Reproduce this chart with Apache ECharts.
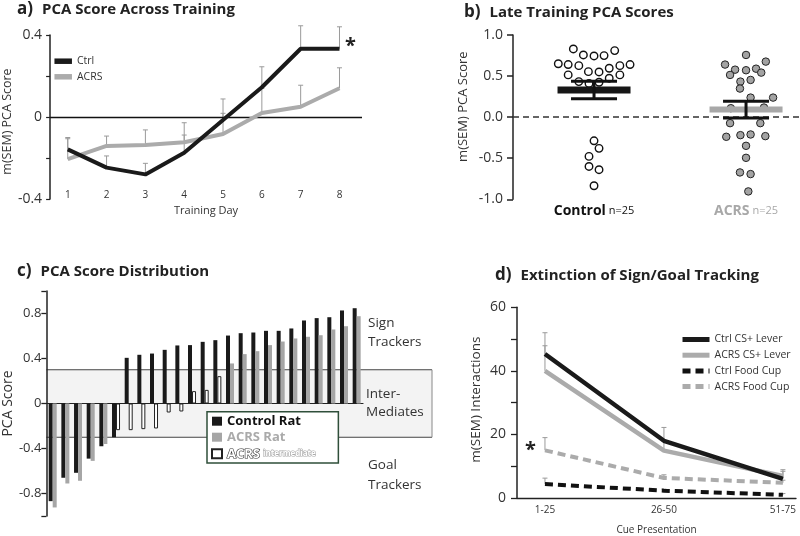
<!DOCTYPE html>
<html><head><meta charset="utf-8">
<script src="https://cdn.jsdelivr.net/npm/echarts@6/dist/echarts.min.js"></script>
<style>html,body{margin:0;padding:0;background:#fff}#c{width:800px;height:536px}</style>
</head><body><div id="c"></div>
<script>
// ---------- a) PCA score across training ----------
const days = [1, 2, 3, 4, 5, 6, 7, 8];
const ctrlTraining = [-0.158, -0.247, -0.28, -0.174, -0.015, 0.145, 0.333, 0.333];
const ctrlTrainingSem = [0.058, 0.057, 0.054, 0.086, 0.103, 0.10, 0.112, 0.107];
const acrsTraining = [-0.206, -0.141, -0.137, -0.123, -0.083, 0.02, 0.05, 0.14];
const acrsTrainingSem = [0.10, 0.048, 0.074, 0.095, 0.101, 0.12, 0.105, 0.10];

// ---------- b) Late training PCA scores ----------
const lateGroups = ['Control', 'ACRS'];
const lateN = [25, 25];
const controlLate = [0.83, 0.757, 0.745, 0.749, 0.81, 0.65, 0.64, 0.627, 0.554, 0.55, 0.595, 0.627, 0.64, 0.514, 0.433, 0.41, 0.425, 0.474, 0.514, -0.288, -0.38, -0.478, -0.6, -0.64, -0.835];
const controlJitter = [-0.136, -0.07, 0, 0.066, 0.136, -0.235, -0.17, -0.1, -0.037, 0.033, 0.1, 0.17, 0.237, -0.17, -0.1, -0.033, 0.033, 0.1, 0.17, 0, 0.033, -0.033, -0.033, 0.033, 0];
const acrsLate = [0.757, 0.64, 0.676, 0.578, 0.514, 0.571, 0.59, 0.542, 0.433, 0.453, 0.348, 0.238, 0.238, 0.109, 0.117, -0.073, -0.073, -0.239, -0.219, -0.211, -0.231, -0.349, -0.495, -0.673, -0.693, -0.904];
const acrsJitter = [0, -0.138, 0.13, -0.072, -0.105, 0, 0.066, 0.1, -0.037, 0.03, -0.04, 0.03, 0.178, -0.1, 0.118, -0.105, 0.094, -0.13, -0.037, 0.03, 0.127, 0, 0, -0.04, 0.03, 0.015];
const lateMean = [0.33, 0.092];
const lateSem = [0.107, 0.101];

// ---------- c) PCA score distribution ----------
const ratRank = Array.from({length: 25}, (_, i) => String(i + 1));
const controlRat = [-0.868, -0.66, -0.616, -0.49, -0.38, -0.30, 0.406, 0.433, 0.444, 0.477, 0.516, 0.519, 0.548, 0.563, 0.604, 0.625, 0.631, 0.646, 0.646, 0.667, 0.738, 0.759, 0.767, 0.827, 0.847];
const acrsRat = [-0.924, -0.711, -0.687, -0.51, -0.36, -0.237, -0.237, -0.228, -0.222, -0.08, -0.071, 0.11, 0.121, 0.243, 0.356, 0.439, 0.465, 0.519, 0.551, 0.578, 0.593, 0.607, 0.658, 0.687, 0.776];
const intermediateRange = [-0.3, 0.3];

// ---------- d) Extinction ----------
const cueBlocks = ['1-25', '26-50', '51-75'];
const ctrlLever = [45.3, 18.0, 6.0];
const ctrlLeverSem = [6.7, 4.2, 2.9];
const acrsLever = [40.0, 14.9, 6.9];
const acrsLeverSem = [7.9, 3.0, 1.5];
const ctrlCup = [4.4, 2.3, 1.0];
const ctrlCupSem = [1.85, 0.5, 0.4];
const acrsCup = [15.0, 6.3, 4.8];
const acrsCupSem = [4.0, 1.0, 0.8];

const F = 'Open Sans';
const chart = echarts.init(document.getElementById('c'));

function errUp(params, api) {
  const x = api.value(0), y = api.value(1), e = api.value(2);
  const p0 = api.coord([x, y]), p1 = api.coord([x, y + e]);
  const st = {stroke: '#9a9a9a', lineWidth: 1};
  return {type: 'group', children: [
    {type: 'line', shape: {x1: p0[0], y1: p0[1], x2: p1[0], y2: p1[1]}, style: st},
    {type: 'line', shape: {x1: p1[0] - 2.5, y1: p1[1], x2: p1[0] + 2.5, y2: p1[1]}, style: st}
  ]};
}
function errSeries(xi, yi, xs, ys, es) {
  return {type: 'custom', xAxisIndex: xi, yAxisIndex: yi, z: 1, silent: true,
    encode: {x: 0, y: 1}, renderItem: errUp,
    data: ys.map((v, i) => [xs[i], v, es[i]])};
}
const inter = v => v > intermediateRange[0] && v < intermediateRange[1];
const cueX = cueBlocks.map((_, i) => i + 1);

const titleRich = {
  n: {fontSize: 17, fontFamily: F, color: '#222', padding: [0, 9, 0, 0]},
  b: {fontSize: 15, fontFamily: F, fontWeight: 'bold', color: '#222'}
};
function mkTitle(letter, txt, left, top) {
  return {text: '{n|' + letter + ')}{b|' + txt + '}', left: left, top: top, padding: 0,
    textStyle: {rich: titleRich}};
}
const axisLineSt = {show: true, lineStyle: {color: '#222', width: 1.5}};
const hiddenSymbol = {color: 'rgba(0,0,0,0)', borderWidth: 0, opacity: 0};

const option = {
  animation: false,
  textStyle: {fontFamily: F},
  title: [
    mkTitle('a', 'PCA Score Across Training', 17, 1),
    mkTitle('b', 'Late Training PCA Scores', 464, 4),
    mkTitle('c', 'PCA Score Distribution', 17, 263),
    mkTitle('d', 'Extinction of Sign/Goal Tracking', 495, 267)
  ],
  grid: [
    {left: 44, top: 35, width: 318, height: 164},
    {left: 513, top: 35, width: 287, height: 164.3},
    {left: 40, top: 291, width: 323, height: 225},
    {left: 517, top: 307.3, width: 279, height: 192}
  ],
  xAxis: [
    {gridIndex: 0, type: 'value', min: 0.545, max: 8.58, axisLine: {show: false}, axisTick: {show: false},
      splitLine: {show: false},
      axisLabel: {customValues: days, margin: -9, fontSize: 10, color: '#333'},
      name: 'Training Day', nameLocation: 'middle', nameGap: 6, nameTextStyle: {fontSize: 11, color: '#333'}},
    {gridIndex: 1, type: 'value', min: 0.467, max: 2.355, axisLine: {show: false}, axisTick: {show: false},
      splitLine: {show: false},
      axisLabel: {customValues: [1, 2], margin: 5,
        formatter: v => '{g' + (v - 1) + '|' + lateGroups[v - 1] + '}{n' + (v - 1) + '| n=' + lateN[v - 1] + '}',
        rich: {
          g0: {fontSize: 14, fontWeight: 'bold', color: '#111', fontFamily: F},
          n0: {fontSize: 11, color: '#111', fontFamily: F},
          g1: {fontSize: 14, fontWeight: 'bold', color: '#a8a8a8', fontFamily: F},
          n1: {fontSize: 11, color: '#a8a8a8', fontFamily: F}
        }}},
    {gridIndex: 2, type: 'category', data: ratRank,
      axisLine: {show: true, onZero: true, lineStyle: {color: '#222', width: 1.2}},
      axisTick: {show: false}, axisLabel: {show: false}},
    {gridIndex: 3, type: 'value', min: 0.765, max: 3.11, axisLine: {show: true, lineStyle: {color: '#222', width: 1.3}},
      axisTick: {show: false}, splitLine: {show: false},
      axisLabel: {customValues: cueX, formatter: v => cueBlocks[v - 1], fontSize: 10, color: '#333', margin: 7},
      name: 'Cue Presentation', nameLocation: 'middle', nameGap: 27, nameTextStyle: {fontSize: 10, color: '#333'}}
  ],
  yAxis: [
    {gridIndex: 0, type: 'value', min: -0.4, max: 0.4, interval: 0.2, axisLine: axisLineSt,
      axisTick: {show: true, length: 4, customValues: [-0.4, -0.2, 0, 0.2, 0.4], lineStyle: {color: '#222', width: 1.2}},
      axisLabel: {customValues: [-0.4, 0, 0.4], fontSize: 14, color: '#333', margin: 8},
      splitLine: {show: false},
      name: 'm(SEM) PCA Score', nameLocation: 'middle', nameGap: 28,
      nameTextStyle: {fontSize: 12.5, color: '#333', padding: [0, 9, 0, 0]}},
    {gridIndex: 1, type: 'value', min: -1, max: 1, interval: 0.5, axisLine: axisLineSt,
      axisTick: {show: true, length: 6, lineStyle: {color: '#222', width: 1.5}},
      axisLabel: {fontSize: 14, color: '#333', margin: 10, formatter: v => v.toFixed(1)},
      splitLine: {show: false},
      name: 'm(SEM) PCA Score', nameLocation: 'middle', nameGap: 43,
      nameTextStyle: {fontSize: 13, color: '#333', padding: [0, 0, 0, 21]}},
    {gridIndex: 2, type: 'value', min: -1, max: 1, axisLine: axisLineSt,
      axisTick: {show: true, length: 5, customValues: [-1, -0.8, -0.4, 0, 0.4, 0.8, 1], lineStyle: {color: '#222', width: 1.3}},
      axisLabel: {customValues: [-0.8, -0.4, 0, 0.4, 0.8], fontSize: 13, color: '#333', margin: 5},
      splitLine: {show: false},
      name: 'PCA Score', nameLocation: 'middle', nameGap: 24,
      nameTextStyle: {fontSize: 14, color: '#333'}},
    {gridIndex: 3, type: 'value', min: 0, max: 60, interval: 10, axisLine: axisLineSt,
      axisTick: {show: true, length: 6, lineStyle: {color: '#222', width: 1.3}},
      axisLabel: {customValues: [0, 20, 40, 60], fontSize: 14, color: '#333', margin: 11},
      splitLine: {show: false},
      name: 'm(SEM) Interactions', nameLocation: 'middle', nameGap: 34,
      nameTextStyle: {fontSize: 13.5, color: '#333', padding: [0, 0, 0, 6]}}
  ],
  legend: [
    {data: ['Ctrl', 'ACRS'], orient: 'vertical', left: 51.7, top: 55.7, padding: 0,
      itemWidth: 17.5, itemHeight: 12, itemGap: 4.6, selectedMode: false,
      itemStyle: hiddenSymbol,
      lineStyle: {width: 5.5}, textStyle: {fontSize: 10.5, color: '#333', fontFamily: F}},
    {data: ['Control Rat', 'ACRS Rat', 'ACRS Intermediate'], orient: 'vertical', left: 207, top: 411.7,
      padding: [3, 22, 2, 4], itemWidth: 10, itemHeight: 9, itemGap: 3, icon: 'rect', selectedMode: false,
      borderColor: '#2f4f3a', borderWidth: 1.5, backgroundColor: '#fff', borderRadius: 0,
      formatter: name => name === 'Control Rat' ? '{k|Control Rat}' :
        name === 'ACRS Rat' ? '{g|ACRS Rat}' : '{o|ACRS} {s|intermediate}',
      textStyle: {fontFamily: F, rich: {
        k: {fontSize: 13, fontWeight: 'bold', color: '#111', fontFamily: F},
        g: {fontSize: 13, fontWeight: 'bold', color: '#aaa', fontFamily: F},
        o: {fontSize: 13, fontWeight: 'bold', color: '#fff', textBorderColor: '#333', textBorderWidth: 1.2, fontFamily: F},
        s: {fontSize: 8, fontWeight: 'bold', color: '#fff', textBorderColor: '#aaa', textBorderWidth: 1.2, fontFamily: F}
      }}},
    {data: ['Ctrl CS+ Lever', 'ACRS CS+ Lever', 'Ctrl Food Cup', 'ACRS Food Cup'], orient: 'vertical',
      left: 680, top: 334, padding: 0, itemWidth: 27, itemHeight: 12, itemGap: 4.7, selectedMode: false,
      itemStyle: hiddenSymbol,
      lineStyle: {width: 5}, textStyle: {fontSize: 10.5, color: '#333', fontFamily: F}}
  ],
  series: [
    // a
    errSeries(0, 0, days, acrsTraining, acrsTrainingSem),
    errSeries(0, 0, days, ctrlTraining, ctrlTrainingSem),
    {name: 'ACRS', type: 'line', xAxisIndex: 0, yAxisIndex: 0, symbol: 'none', z: 3,
      data: days.map((d, i) => [d, acrsTraining[i]]),
      lineStyle: {color: '#ababab', width: 4}, itemStyle: {color: '#ababab'}},
    {name: 'Ctrl', type: 'line', xAxisIndex: 0, yAxisIndex: 0, symbol: 'none', z: 4,
      data: days.map((d, i) => [d, ctrlTraining[i]]),
      lineStyle: {color: '#1a1a1a', width: 4}, itemStyle: {color: '#1a1a1a'},
      markLine: {silent: true, symbol: 'none', label: {show: false}, data: [{yAxis: 0}],
        lineStyle: {color: '#111', width: 1.3, type: 'solid'}, z: 2}},
    // b
    {name: 'ControlLate', type: 'scatter', xAxisIndex: 1, yAxisIndex: 1, symbolSize: 7.5, z: 2,
      data: controlLate.map((v, i) => [1 + controlJitter[i], v]),
      itemStyle: {color: '#fff', borderColor: '#111', borderWidth: 1.4, opacity: 1},
      markLine: {silent: true, symbol: 'none', label: {show: false}, data: [{yAxis: 0}],
        lineStyle: {color: '#333', width: 1.5, type: [6, 4]}}},
    {name: 'ACRSLate', type: 'scatter', xAxisIndex: 1, yAxisIndex: 1, symbolSize: 7.5, z: 2,
      data: acrsLate.map((v, i) => [2 + acrsJitter[i], v]),
      itemStyle: {color: '#a3a3a3', borderColor: '#222', borderWidth: 1, opacity: 1}},
    {type: 'custom', xAxisIndex: 1, yAxisIndex: 1, z: 5, silent: true, encode: {x: 0, y: 1},
      data: lateMean.map((m, i) => [i + 1, m, lateSem[i]]),
      renderItem: function (params, api) {
        const x = api.value(0), m = api.value(1), s = api.value(2);
        const i = params.dataIndex;
        const c = api.coord([x, m]), hi = api.coord([x, m + s]), lo = api.coord([x, m - s]);
        const bw = 73, bh = i === 0 ? 7 : 6, cw = 46;
        const st = {stroke: '#111', lineWidth: 3};
        return {type: 'group', children: [
          {type: 'rect', shape: {x: c[0] - bw / 2, y: c[1] - bh / 2, width: bw, height: bh},
            style: {fill: i === 0 ? '#161616' : '#a8a8a8'}},
          {type: 'line', shape: {x1: c[0], y1: hi[1], x2: c[0], y2: lo[1]}, style: st},
          {type: 'line', shape: {x1: c[0] - cw / 2, y1: hi[1], x2: c[0] + cw / 2, y2: hi[1]}, style: st},
          {type: 'line', shape: {x1: c[0] - cw / 2, y1: lo[1], x2: c[0] + cw / 2, y2: lo[1]}, style: st}
        ]};
      }},
    // c
    {type: 'custom', xAxisIndex: 2, yAxisIndex: 2, z: 0, silent: true, encode: {x: 0, y: [1, 2]},
      data: [[0, intermediateRange[0], intermediateRange[1]]],
      renderItem: function (params, api) {
        const cs = params.coordSys;
        const yT = api.coord([0, api.value(2)])[1], yB = api.coord([0, api.value(1)])[1];
        const x0 = cs.x, x1 = cs.x + cs.width + 69;
        const st = {stroke: '#444', lineWidth: 1};
        return {type: 'group', children: [
          {type: 'rect', shape: {x: x0, y: yT, width: x1 - x0, height: yB - yT}, style: {fill: '#f3f3f3'}},
          {type: 'line', shape: {x1: x0, y1: yT, x2: x1, y2: yT}, style: st},
          {type: 'line', shape: {x1: x0, y1: yB, x2: x1, y2: yB}, style: st},
          {type: 'line', shape: {x1: x1, y1: yT, x2: x1, y2: yB}, style: {stroke: '#888', lineWidth: 1}}
        ]};
      }},
    {name: 'Control Rat', type: 'bar', xAxisIndex: 2, yAxisIndex: 2, barWidth: 4, barGap: '0%', z: 3,
      data: controlRat, itemStyle: {color: '#1a1a1a'}},
    {name: 'ACRS Rat', type: 'bar', xAxisIndex: 2, yAxisIndex: 2, barWidth: 4, barGap: '0%', stack: 'acrs', z: 3,
      data: acrsRat.map(v => inter(v) ? '-' : v), itemStyle: {color: '#a6a6a6'}},
    {name: 'ACRS Intermediate', type: 'bar', xAxisIndex: 2, yAxisIndex: 2, barWidth: 4, barGap: '0%', stack: 'acrs', z: 3,
      data: acrsRat.map(v => inter(v) ? v : '-'),
      itemStyle: {color: '#fff', borderColor: '#222', borderWidth: 1}},
    // d
    errSeries(3, 3, cueX, acrsCup, acrsCupSem),
    errSeries(3, 3, cueX, ctrlCup, ctrlCupSem),
    errSeries(3, 3, cueX, acrsLever, acrsLeverSem),
    errSeries(3, 3, cueX, ctrlLever, ctrlLeverSem),
    {name: 'ACRS Food Cup', type: 'line', xAxisIndex: 3, yAxisIndex: 3, symbol: 'none', z: 3,
      data: cueX.map((x, i) => [x, acrsCup[i]]),
      lineStyle: {color: '#ababab', width: 4, type: [8, 5]}, itemStyle: {color: '#ababab'}},
    {name: 'Ctrl Food Cup', type: 'line', xAxisIndex: 3, yAxisIndex: 3, symbol: 'none', z: 3,
      data: cueX.map((x, i) => [x, ctrlCup[i]]),
      lineStyle: {color: '#111', width: 4, type: [8, 5]}, itemStyle: {color: '#111'}},
    {name: 'ACRS CS+ Lever', type: 'line', xAxisIndex: 3, yAxisIndex: 3, symbol: 'none', z: 3,
      data: cueX.map((x, i) => [x, acrsLever[i]]),
      lineStyle: {color: '#ababab', width: 4.5}, itemStyle: {color: '#ababab'}},
    {name: 'Ctrl CS+ Lever', type: 'line', xAxisIndex: 3, yAxisIndex: 3, symbol: 'none', z: 4,
      data: cueX.map((x, i) => [x, ctrlLever[i]]),
      lineStyle: {color: '#1a1a1a', width: 4.5}, itemStyle: {color: '#1a1a1a'}}
  ],
  graphic: [
    {type: 'text', z: 100, left: 345, top: 36, style: {text: '*', font: 'bold 20px Open Sans', fill: '#222'}},
    {type: 'text', z: 100, left: 525, top: 440, style: {text: '*', font: 'bold 20px Open Sans', fill: '#222'}},
    {type: 'text', z: 100, left: 368, top: 314, style: {text: 'Sign\nTrackers', font: '13.5px Open Sans', fill: '#333', lineHeight: 18.5}},
    {type: 'text', z: 100, left: 366, top: 384.5, style: {text: 'Inter-\nMediates', font: '13.5px Open Sans', fill: '#333', lineHeight: 18.5}},
    {type: 'text', z: 100, left: 368, top: 455, style: {text: 'Goal\nTrackers', font: '13.5px Open Sans', fill: '#333', lineHeight: 20}}
  ]
};
chart.setOption(option);
</script>
</body></html>
